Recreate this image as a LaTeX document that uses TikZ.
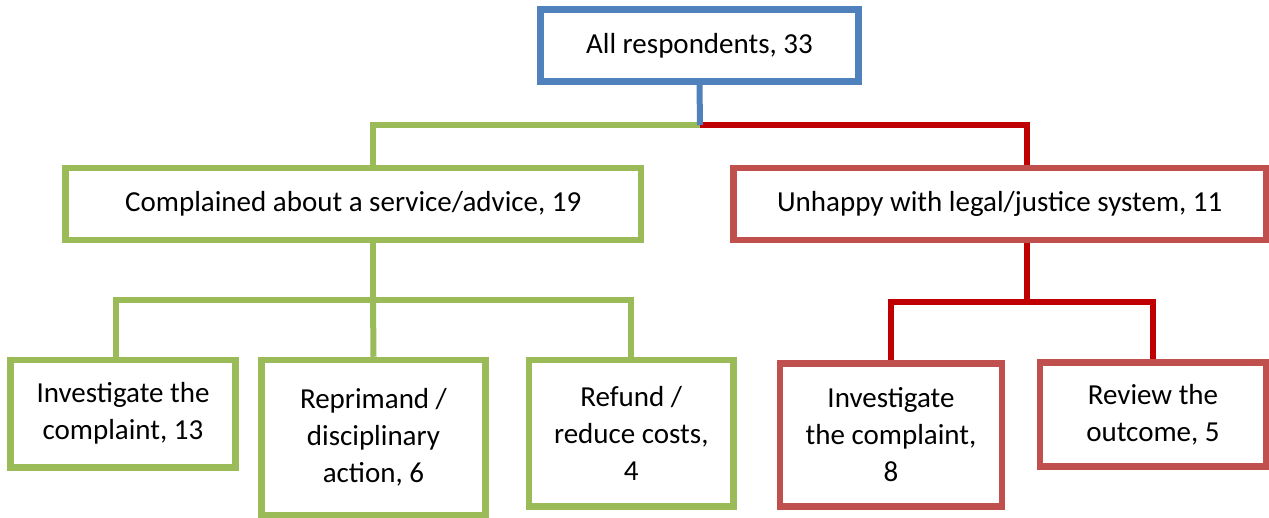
\documentclass[tikz,border=0pt]{standalone}
\usepackage{fontspec}
\setmainfont{Carlito}
\definecolor{cblue}{HTML}{4F81BD}
\definecolor{cgreen}{HTML}{9BBB59}
\definecolor{cboxred}{HTML}{C0504D}
\definecolor{cred}{HTML}{C00000}
\begin{document}
\begin{tikzpicture}[x=1pt,y=-1pt,
  box/.style={draw, line width=6.5pt, fill=white, align=center, inner sep=0pt,
    font=\fontsize{29}{37}\selectfont, text=black},
  bluebox/.style={box, draw=cblue},
  greenbox/.style={box, draw=cgreen},
  redbox/.style={box, draw=cboxred},
  gline/.style={draw=cgreen, line width=6pt},
  rline/.style={draw=cred, line width=6pt},
  bline/.style={draw=cblue, line width=6pt}]
\useasboundingbox (0,0) rectangle (1269,517);
\fill[white] (0,0) rectangle (1269,517);

% coordinates for connector junctions
\coordinate (j0) at (700,125);
\coordinate (cL) at (373,0);
\coordinate (cR) at (1027,0);
\coordinate (jL) at (373,300);
\coordinate (jR) at (1027,302);
\coordinate (cL1) at (116,0);
\coordinate (cL3) at (631,0);

% boxes
\node[bluebox, minimum width=318pt, minimum height=72pt] (top) at (699.5,45.5) {All respondents, 33};
\node[greenbox, minimum width=575.5pt, minimum height=72pt] (midL) at (353.25,204) {Complained about a service/advice, 19};
\node[redbox, minimum width=532.5pt, minimum height=72pt] (midR) at (999.75,204) {Unhappy with legal/justice system, 11};
\node[greenbox, minimum width=225pt, minimum height=107.5pt] (L1) at (123,413.75) {Investigate the\\complaint, 13};
\node[greenbox, minimum width=224pt, minimum height=155pt] (L2) at (373.5,437.5) {Reprimand /\\disciplinary\\action, 6};
\node[greenbox, minimum width=204.5pt, minimum height=146.5pt] (L3) at (631.25,433.25) {Refund /\\reduce costs,\\4};
\node[redbox, minimum width=222pt, minimum height=143pt] (R1) at (891,435) {Investigate\\the complaint,\\8};
\node[redbox, minimum width=226pt, minimum height=104pt] (R2) at (1153,414.5) {Review the\\outcome, 5};

% first level connectors
\draw[gline] (j0) -| (midL.north -| cL);
\draw[rline] (j0) -| (midR.north -| cR);
\draw[bline] (top.south) -- (j0);

% second level, left
\draw[gline] (midL.south -| cL) -- (jL);
\draw[gline] (jL) -| (L1.north -| cL1);
\draw[gline] (jL) -- (L2.north);
\draw[gline] (jL) -| (L3.north -| cL3);

% second level, right
\draw[rline] (midR.south -| cR) -- (jR);
\draw[rline] (jR) -| (R1.north);
\draw[rline] (jR) -| (R2.north);
\end{tikzpicture}
\end{document}
